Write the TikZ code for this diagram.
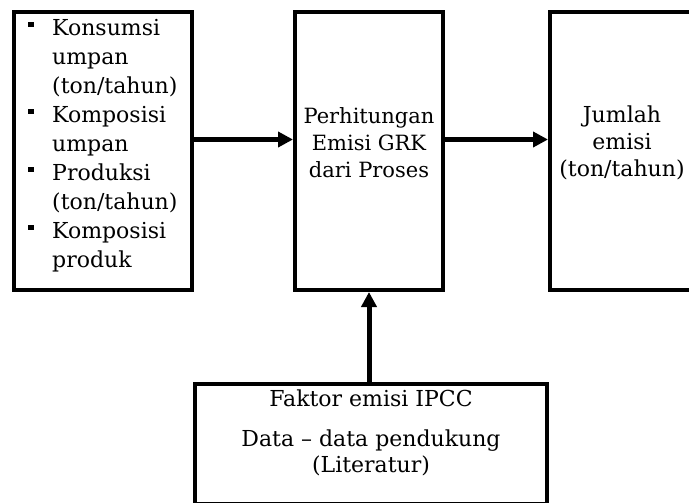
\documentclass[tikz,border=0pt]{standalone}
\usepackage{fontspec}
\setmainfont{DejaVu Serif}
\usetikzlibrary{arrows.meta, positioning}
\newcommand{\drawe}{\draw[line width=5pt]}
\newcommand{\butir}{\makebox[24pt][l]{\raisebox{8pt}{\rule{5.5pt}{5.5pt}}}}
\newcommand{\jorok}{\hspace*{24pt}}

\begin{document}
\begin{tikzpicture}[x=1pt, y=-1pt, >={Triangle[length=15pt,width=15pt]},
  box/.style={draw, line width=4pt, inner sep=0pt},
  teks/.style={inner sep=0pt, align=center, font=\fontsize{22}{27}\selectfont}]
\useasboundingbox (0,0) rectangle (689,503);
% Kotak-kotak
\node[box, minimum width=178pt, minimum height=278pt] (input) at (103,151) {};
\node[box, minimum width=148pt, minimum height=278pt] (hitung) at (369,151) {};
\node[box, minimum width=148pt, minimum height=278pt] (hasil) at (624,151) {};
\node[box, minimum width=352pt, minimum height=120pt] (faktor) at (371,444) {};

% Isi kotak
\node[teks, align=left, anchor=north west, font=\fontsize{22}{29}\selectfont] (tinput) at (28,19)
  {\butir Konsumsi\\ \jorok umpan\\ \jorok (ton/tahun)\\
   \butir Komposisi\\ \jorok umpan\\
   \butir Produksi\\ \jorok (ton/tahun)\\
   \butir Komposisi\\ \jorok produk};
\node[teks, anchor=north, font=\fontsize{21}{27}\selectfont] (thitung) at (369,107) {Perhitungan\\ Emisi GRK\\ dari Proses};
\node[teks, anchor=north] (thasil) at (622,106) {Jumlah\\ emisi\\ (ton/tahun)};
\node[teks, anchor=north, font=\fontsize{22}{26}\selectfont] (tfaktor) at (371,390)
  {Faktor emisi IPCC\\[14pt] Data -- data pendukung\\ (Literatur)};

% Panah
\drawe[->] ([yshift=11.5pt]input.east) -- ([yshift=11.5pt]hitung.west);
\drawe[->] ([yshift=11.5pt]hitung.east) -- ([yshift=11.5pt]hasil.west);
\drawe[->] (faktor.north -| hitung.south) -- (hitung.south);
\end{tikzpicture}
\end{document}
